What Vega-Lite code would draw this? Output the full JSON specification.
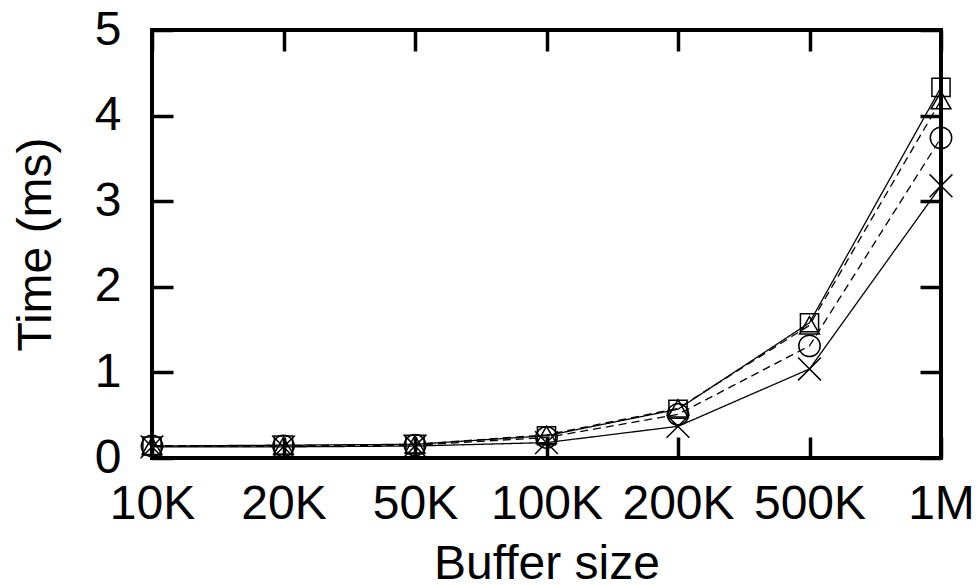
{
  "$schema": "https://vega.github.io/schema/vega-lite/v6.json",
  "width": 789,
  "height": 428,
  "autosize": {"type": "none"},
  "padding": {"left": 152, "top": 30, "right": 39, "bottom": 128},
  "background": "white",
  "config": {
    "view": {"stroke": "black", "strokeWidth": 4},
    "axis": {
      "domain": false,
      "grid": false,
      "ticks": true,
      "tickSize": -21,
      "tickWidth": 3.5,
      "tickColor": "black",
      "labelFont": "Liberation Sans",
      "labelFontSize": 48,
      "labelColor": "black",
      "titleFont": "Liberation Sans",
      "titleFontSize": 48,
      "titleFontWeight": "normal",
      "titleColor": "black"
    }
  },
  "data": {
    "values": [
      {"size": "10K", "series": "s1", "value": 0.13},
      {"size": "20K", "series": "s1", "value": 0.13},
      {"size": "50K", "series": "s1", "value": 0.14},
      {"size": "100K", "series": "s1", "value": 0.18},
      {"size": "200K", "series": "s1", "value": 0.37},
      {"size": "500K", "series": "s1", "value": 1.04},
      {"size": "1M", "series": "s1", "value": 3.18},
      {"size": "10K", "series": "s2", "value": 0.14},
      {"size": "20K", "series": "s2", "value": 0.14},
      {"size": "50K", "series": "s2", "value": 0.15},
      {"size": "100K", "series": "s2", "value": 0.24},
      {"size": "200K", "series": "s2", "value": 0.51},
      {"size": "500K", "series": "s2", "value": 1.31},
      {"size": "1M", "series": "s2", "value": 3.74},
      {"size": "10K", "series": "s3", "value": 0.14},
      {"size": "20K", "series": "s3", "value": 0.14},
      {"size": "50K", "series": "s3", "value": 0.16},
      {"size": "100K", "series": "s3", "value": 0.27},
      {"size": "200K", "series": "s3", "value": 0.58},
      {"size": "500K", "series": "s3", "value": 1.55},
      {"size": "1M", "series": "s3", "value": 4.18},
      {"size": "10K", "series": "s4", "value": 0.14},
      {"size": "20K", "series": "s4", "value": 0.15},
      {"size": "50K", "series": "s4", "value": 0.16},
      {"size": "100K", "series": "s4", "value": 0.26},
      {"size": "200K", "series": "s4", "value": 0.57},
      {"size": "500K", "series": "s4", "value": 1.58},
      {"size": "1M", "series": "s4", "value": 4.33}
    ]
  },
  "resolve": {"axis": {"x": "independent", "y": "independent"}},
  "layer": [
    {
      "mark": {"type": "line", "color": "black", "strokeWidth": 1.3},
      "encoding": {
        "x": {
          "field": "size", "type": "ordinal",
          "sort": ["10K", "20K", "50K", "100K", "200K", "500K", "1M"],
          "scale": {"type": "point", "padding": 0},
          "axis": {"orient": "bottom", "title": "Buffer size", "labelAngle": 0, "labelPadding": 43, "titlePadding": 12}
        },
        "y": {
          "field": "value", "type": "quantitative",
          "scale": {"domain": [0, 5], "nice": false, "zero": true},
          "axis": {"orient": "left", "title": "Time (ms)", "values": [0, 1, 2, 3, 4, 5], "labelPadding": 52, "titlePadding": 34}
        },
        "detail": {"field": "series"},
        "strokeDash": {
          "field": "series", "type": "nominal",
          "scale": {"domain": ["s1", "s2", "s3", "s4"], "range": [[1, 0], [8, 5], [8, 5], [1, 0]]},
          "legend": null
        }
      }
    },
    {
      "mark": {"type": "point", "filled": false, "color": "black", "strokeWidth": 1.5, "opacity": 1},
      "encoding": {
        "x": {
          "field": "size", "type": "ordinal",
          "sort": ["10K", "20K", "50K", "100K", "200K", "500K", "1M"],
          "scale": {"type": "point", "padding": 0},
          "axis": {"orient": "top", "title": null, "labels": false}
        },
        "y": {
          "field": "value", "type": "quantitative",
          "scale": {"domain": [0, 5], "nice": false, "zero": true},
          "axis": {"orient": "right", "title": null, "labels": false, "values": [0, 1, 2, 3, 4, 5]}
        },
        "shape": {
          "field": "series", "type": "nominal",
          "scale": {"domain": ["s1", "s2", "s3", "s4"], "range": ["M-1,-1L1,1M1,-1L-1,1", "circle", "triangle-up", "square"]},
          "legend": null
        },
        "size": {
          "field": "series", "type": "nominal",
          "scale": {"domain": ["s1", "s2", "s3", "s4"], "range": [520, 330, 460, 540]},
          "legend": null
        }
      }
    }
  ]
}
